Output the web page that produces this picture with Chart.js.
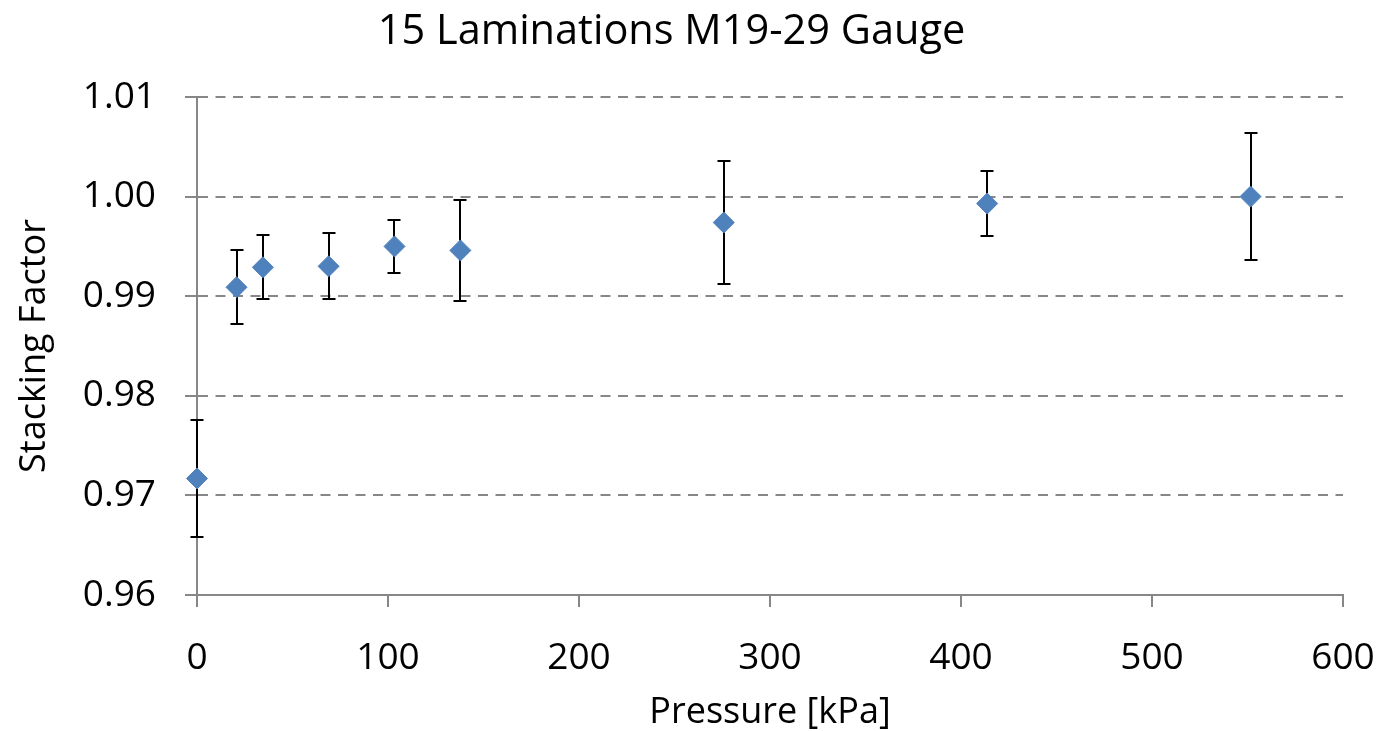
<!DOCTYPE html>
<html>
<head>
<meta charset="utf-8">
<script src="https://cdn.jsdelivr.net/npm/chart.js@4/dist/chart.umd.min.js"></script>
<style>
  html, body { margin: 0; padding: 0; background: #fff; }
  #wrap { width: 1381px; height: 731px; }
</style>
</head>
<body>
<div id="wrap"><canvas id="chart"></canvas></div>
<script>
// pressure in kPa (psi steps converted)
const pressure = [0, 20.7, 34.5, 68.9, 103.4, 137.9, 275.8, 413.7, 551.6]
const stackingFactor = [0.9717, 0.9909, 0.9929, 0.9930, 0.9950, 0.9946, 0.9974, 0.9993, 1.0000]
const errorSize = [0.0059, 0.0037, 0.0032, 0.0033, 0.0027, 0.0051, 0.0062, 0.0033, 0.0064]
const xTicks = [0, 100, 200, 300, 400, 500, 600]
const yTicks = [0.96, 0.97, 0.98, 0.99, 1.00, 1.01]

const fontFamily = "'Open Sans', 'Noto Sans', sans-serif"
const gridColor = "#878787"

// draws the vertical error bars behind the markers
const errorBars = {
  id: "errorBars",
  beforeDatasetsDraw(chart) {
    const { ctx, scales: { x, y } } = chart
    ctx.save()
    ctx.strokeStyle = "#000"
    ctx.lineWidth = 2
    pressure.forEach((p, i) => {
      const px = Math.round(x.getPixelForValue(p))
      const top = Math.round(y.getPixelForValue(stackingFactor[i] + errorSize[i]))
      const bottom = Math.round(y.getPixelForValue(stackingFactor[i] - errorSize[i]))
      ctx.beginPath()
      ctx.moveTo(px, top)
      ctx.lineTo(px, bottom)
      ctx.moveTo(px - 6.5, top)
      ctx.lineTo(px + 6.5, top)
      ctx.moveTo(px - 6.5, bottom)
      ctx.lineTo(px + 6.5, bottom)
      ctx.stroke()
    })
    ctx.restore()
  },
}

new Chart(document.getElementById("chart"), {
  type: "scatter",
  data: {
    datasets: [
      {
        data: pressure.map((p, i) => ({ x: p, y: stackingFactor[i] })),
        pointStyle: "rectRot",
        pointRadius: 10.5,
        pointHoverRadius: 10.5,
        backgroundColor: "#4f81bd",
        borderColor: "#4f81bd",
        borderWidth: 1,
        clip: false,
      },
    ],
  },
  options: {
    responsive: true,
    maintainAspectRatio: false,
    animation: false,
    devicePixelRatio: 1,
    layout: { padding: { left: 0, right: 38, top: 0, bottom: 0 } },
    plugins: {
      legend: { display: false },
      tooltip: { enabled: false },
      title: {
        display: true,
        text: "15 Laminations M19-29 Gauge",
        color: "#000",
        font: { family: fontFamily, size: 41.5, weight: "normal", lineHeight: 1.2 },
        padding: { top: 7, bottom: 40.2 },
      },
    },
    scales: {
      x: {
        type: "linear",
        min: 0,
        max: 600,
        afterBuildTicks: (scale) => {
          scale.ticks = xTicks.map((v) => ({ value: v }))
        },
        afterFit: (scale) => {
          scale.height = 136
          scale.paddingLeft = 0
          scale.paddingRight = 0
        },
        ticks: {
          color: "#000",
          font: { family: fontFamily, size: 37 },
          padding: 29,
          maxRotation: 0,
        },
        grid: {
          drawOnChartArea: false,
          drawTicks: true,
          tickLength: 12,
          color: gridColor,
          lineWidth: 2,
        },
        border: { display: true, color: gridColor, width: 2 },
        title: {
          display: true,
          text: "Pressure [kPa]",
          color: "#000",
          font: { family: fontFamily, size: 36, lineHeight: 1.2 },
          padding: { top: 0, bottom: -3 },
        },
      },
      y: {
        type: "linear",
        min: 0.96,
        max: 1.01,
        afterBuildTicks: (scale) => {
          scale.ticks = yTicks.map((v) => ({ value: v }))
        },
        afterFit: (scale) => {
          scale.width = 197
        },
        ticks: {
          color: "#000",
          font: { family: fontFamily, size: 37 },
          padding: 29,
          callback: (v) => v.toFixed(2),
        },
        grid: {
          drawOnChartArea: true,
          drawTicks: true,
          tickLength: 12,
          color: gridColor,
          lineWidth: 2,
          tickColor: gridColor,
          tickBorderDash: [],
        },
        border: { display: true, color: gridColor, width: 2, dash: [10, 7.5] },
        title: {
          display: true,
          text: "Stacking Factor",
          color: "#000",
          font: { family: fontFamily, size: 36, lineHeight: 1.2 },
          padding: { top: 13, bottom: 0 },
        },
      },
    },
  },
  plugins: [errorBars],
})
</script>
</body>
</html>
